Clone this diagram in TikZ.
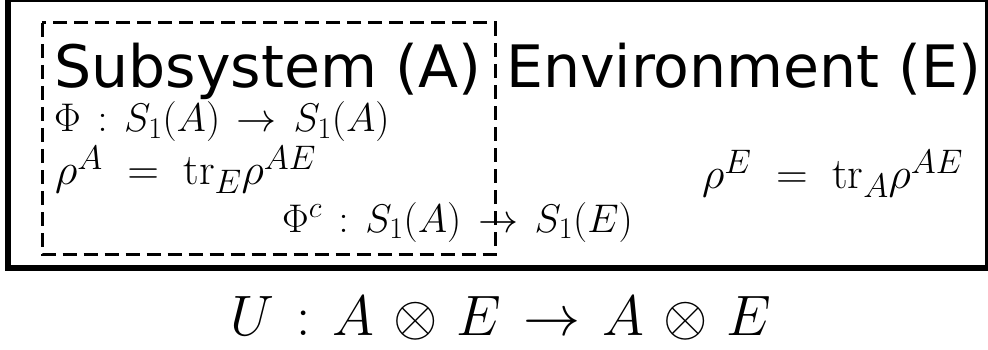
\RequirePackage{fix-cm}
\documentclass[tikz,border=0pt]{standalone}
\usepackage{fontspec}
\newfontfamily\dejavu{DejaVu Sans}
\DeclareMathSizes{40}{40}{30}{22}
\DeclareMathSizes{44}{44}{34}{26}
\newcommand{\phispace}{\thickmuskip=7.5mu\relax\medmuskip=6mu\relax}
\newcommand{\rhospace}{\thickmuskip=10mu\relax\medmuskip=6mu\relax}
\newcommand{\wideU}{\thickmuskip=7mu\relax\medmuskip=6mu\relax}
\begin{document}
\begin{tikzpicture}[x=1pt,y=-1pt,
  lbl/.style={inner sep=0pt,anchor=base west},
  big/.style={lbl,font=\dejavu\fontsize{58.5}{60}\selectfont},
  mth/.style={lbl,font=\fontsize{40}{44}\selectfont},
  rmth/.style={lbl,font=\fontsize{44}{48}\selectfont},
  umth/.style={lbl,font=\fontsize{57}{60}\selectfont},
  outerbox/.style={draw=black,line width=6pt},
  subbox/.style={draw=black,line width=3pt,dash pattern=on 14pt off 7pt}]
\useasboundingbox (0,0) rectangle (988,350);
\draw[outerbox] (8,-1) rectangle (988,267.5);
\draw[subbox] (42,23) rectangle (495,254.5);
\node[big] (sub) at (54,88) {Subsystem (A)};
\node[big] (env) at (506,88) {Environment (E)};
\node[mth] (phi) at (54,132) {$\phispace\Phi: S_1(A)\to S_1(A)$};
\node[rmth] (rhoA) at (55,185) {$\rhospace\rho^A=\mathrm{tr}_E\rho^{AE}$};
\node[mth] (phic) at (282,232) {$\phispace\Phi^c: S_1(A)\to S_1(E)$};
\node[rmth] (rhoE) at (702,189) {$\rhospace\rho^E=\mathrm{tr}_A\rho^{AE}$};
\node[umth] (U) at (230,335) {$\wideU U: A\otimes E\to A\otimes E$};
\end{tikzpicture}
\end{document}
